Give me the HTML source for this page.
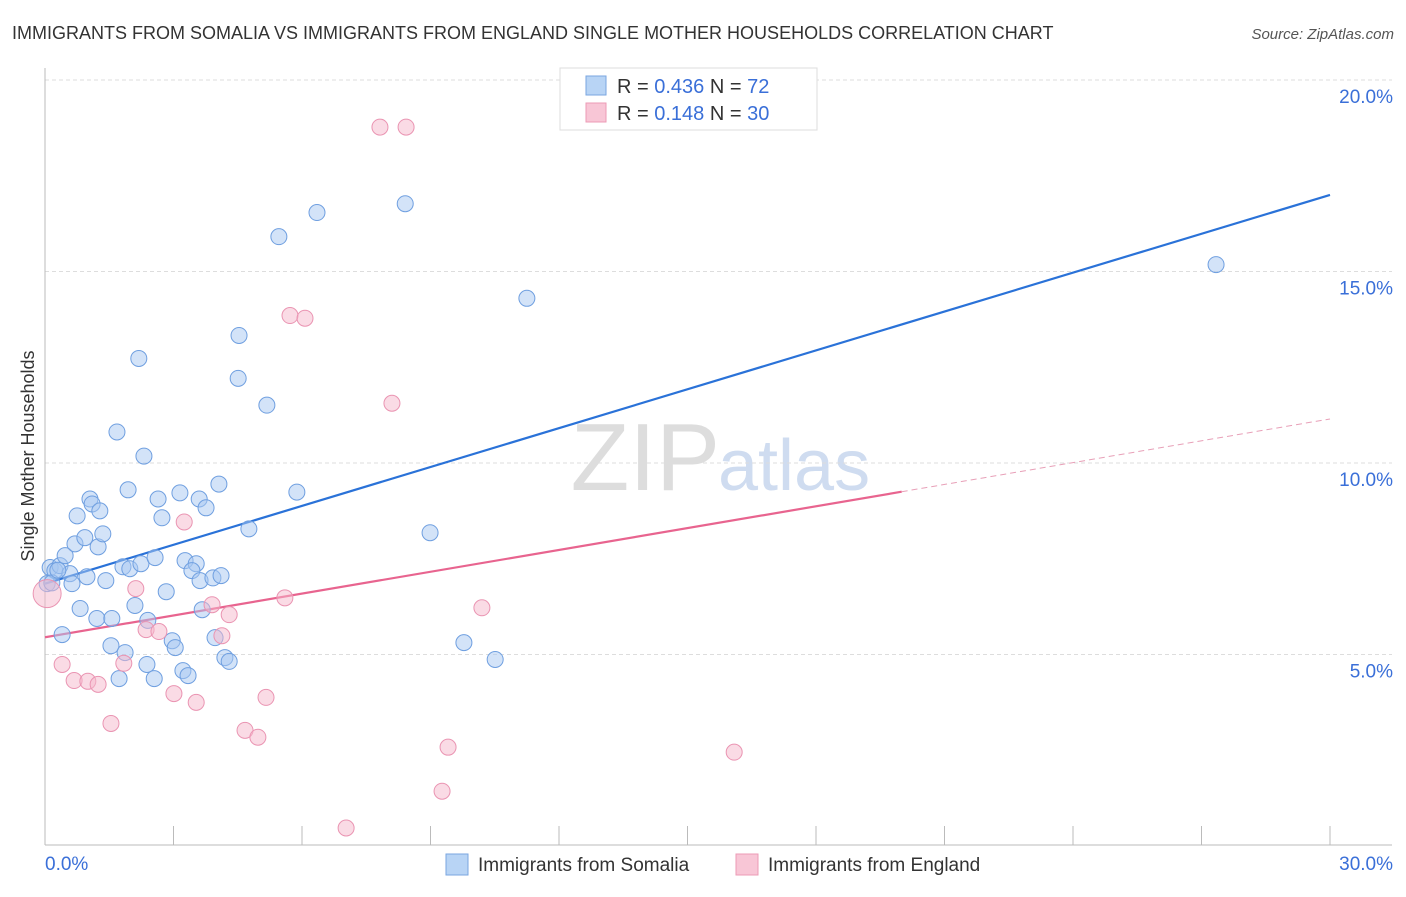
<!DOCTYPE html>
<html><head><meta charset="utf-8"><style>
body{margin:0;background:#fff;font-family:"Liberation Sans",sans-serif;}
svg text{font-family:"Liberation Sans",sans-serif;}
</style></head><body>
<svg id="chart" width="1406" height="892" viewBox="0 0 1406 892">
<text x="12" y="39" font-size="18" fill="#333">IMMIGRANTS FROM SOMALIA VS IMMIGRANTS FROM ENGLAND SINGLE MOTHER HOUSEHOLDS CORRELATION CHART</text>
<text x="1394" y="39" font-size="15" fill="#555" font-style="italic" text-anchor="end">Source: ZipAtlas.com</text>
<text x="720" y="490" font-size="96" fill="#ddd" text-anchor="end" font-family="Liberation Serif">ZIP</text>
<text x="718" y="490" font-size="72" fill="#cfdcf0">atlas</text>
<g id="grid"></g>
<g id="axes"></g>
<g id="lines"></g>
<g id="points"></g>
<text transform="translate(34,456) rotate(-90)" font-size="18" fill="#333" text-anchor="middle">Single Mother Households</text>
<g>
<rect x="560" y="68" width="257" height="62" fill="#fff" stroke="#ddd"/>
<rect x="586" y="76" width="20" height="19" fill="#b8d4f5" stroke="#7aa6e0"/>
<rect x="586" y="103" width="20" height="19" fill="#f8c6d6" stroke="#ec9bb6"/>
<text x="617" y="93" font-size="20" fill="#333">R = <tspan fill="#3a6fd8">0.436</tspan>   N = <tspan fill="#3a6fd8">72</tspan></text>
<text x="617" y="120" font-size="20" fill="#333">R =  <tspan fill="#3a6fd8">0.148</tspan>   N = <tspan fill="#3a6fd8">30</tspan></text>
</g>
<g>
<rect x="446" y="854" width="22" height="21" fill="#b8d4f5" stroke="#7aa6e0"/>
<text x="478" y="871" font-size="19" fill="#333">Immigrants from Somalia</text>
<rect x="736" y="854" width="22" height="21" fill="#f8c6d6" stroke="#ec9bb6"/>
<text x="768" y="871" font-size="19" fill="#333">Immigrants from England</text>
</g>
</svg>
<script>
const somaliaX=[0.12,0.23,0.35,0.05,0.16,0.47,0.58,0.63,0.82,0.70,0.93,0.40,0.75,1.05,1.10,1.28,1.24,1.35,0.98,1.42,1.21,1.56,1.54,1.87,1.73,2.10,1.82,1.98,2.24,2.57,2.40,2.38,2.55,2.83,2.97,3.04,2.73,2.64,1.94,1.68,2.31,2.19,3.15,3.27,3.53,3.43,3.62,3.60,3.76,4.06,3.92,4.11,3.67,3.97,3.22,3.34,4.20,4.30,4.76,4.51,4.53,5.18,5.46,6.35,5.88,8.41,8.99,9.78,10.51,11.25,27.34,0.30];
const somaliaY=[7.27,7.19,7.32,6.85,6.87,7.58,7.11,6.85,6.20,7.89,8.05,5.52,8.62,9.06,8.93,8.75,7.81,8.15,7.03,6.93,5.94,5.94,5.23,5.05,4.37,6.28,7.29,7.24,7.37,7.53,5.89,4.74,4.37,6.64,5.36,5.18,8.57,9.06,9.30,10.81,10.18,12.73,9.22,7.45,7.37,7.19,6.93,9.06,8.83,9.45,7.00,7.06,6.17,5.44,4.58,4.45,4.92,4.82,8.28,12.21,13.33,11.51,15.91,16.54,9.24,16.77,8.18,5.31,4.87,14.30,15.18,7.20];
const englandX=[0.05,0.40,0.68,1.00,1.24,1.54,1.84,2.12,2.36,2.66,3.01,3.25,3.53,3.90,4.13,4.30,4.67,4.97,5.16,5.60,5.72,6.07,7.03,7.82,8.43,8.10,9.27,9.41,10.20,16.09];
const englandY=[6.59,4.74,4.32,4.30,4.22,3.20,4.77,6.72,5.65,5.60,3.98,8.46,3.75,6.30,5.49,6.04,3.02,2.84,3.88,6.48,13.85,13.78,0.47,18.77,18.77,11.56,1.43,2.58,6.22,2.45];
const somaliaTrend=[6.85,17.0];
const englandTrend=[5.45,11.15];
const englandSolidEnd=20.0;
const yTicks=[5,10,15,20];
const yTickLabels=["5.0%","10.0%","15.0%","20.0%"];
const xTicks=[0,3,6,9,12,15,18,21,24,27,30];
const xLabels=[[0,"0.0%"],[30,"30.0%"]];

const NS="http://www.w3.org/2000/svg";
const X=v=>45+v*(1285/30);
const Y=v=>846-v*(766/20);
function mk(tag,attrs,parent){const e=document.createElementNS(NS,tag);for(const k in attrs)e.setAttribute(k,attrs[k]);parent.appendChild(e);return e;}
const grid=document.getElementById('grid'),axes=document.getElementById('axes'),lines=document.getElementById('lines'),pts=document.getElementById('points');
yTicks.forEach((t,i)=>{
 const l=mk('line',{x1:45,x2:1392,y1:Y(t),y2:Y(t),stroke:'#ddd','stroke-dasharray':'4,3'},grid);
 
 
 const tx=mk('text',{x:1393,y:Y(t)+23,'font-size':19,fill:'#3a6fd8','text-anchor':'end'},grid);
 tx.textContent=yTickLabels[i];
 
 
});
const ax=mk('line',{x1:45,x2:1392,y1:845,y2:845,stroke:'#bbb'},axes);


const ay=mk('line',{x1:45,x2:45,y1:68,y2:845,stroke:'#bbb'},axes);


xTicks.forEach(t=>{
 const l=mk('line',{x1:X(t),x2:X(t),y1:826,y2:845,stroke:'#bbb'},axes);
 
 
});
xLabels.forEach(([v,s])=>{
 const tx=mk('text',{x:v===0?X(v):X(v)+63,y:870,'font-size':19,fill:'#3a6fd8','text-anchor':v===0?'start':'end'},axes);
 tx.textContent=s;
 
 
});
const bl=mk('line',{x1:X(0),y1:Y(somaliaTrend[0]),x2:X(30),y2:Y(somaliaTrend[1]),stroke:'#2a72d8','stroke-width':2.2},lines);


const ey=x=>englandTrend[0]+(englandTrend[1]-englandTrend[0])*x/30;
const pl=mk('line',{x1:X(0),y1:Y(ey(0)),x2:X(englandSolidEnd),y2:Y(ey(englandSolidEnd)),stroke:'#e8648f','stroke-width':2.2},lines);


const pd=mk('line',{x1:X(englandSolidEnd),y1:Y(ey(englandSolidEnd)),x2:X(30),y2:Y(ey(30)),stroke:'#e8a0b8','stroke-width':1,'stroke-dasharray':'6,4'},lines);


somaliaX.forEach((x,i)=>{
 const c=mk('circle',{cx:X(x),cy:Y(somaliaY[i]),r:8,fill:'rgba(168,200,242,0.5)',stroke:'#6f9fe0','stroke-width':1},pts);
 
 
});
englandX.forEach((x,i)=>{
 const c=mk('circle',{cx:X(x),cy:Y(englandY[i]),r:i===0?14:8,fill:'rgba(246,184,204,0.5)',stroke:'#ea94b2','stroke-width':1},pts);
 
 
});
</script>
</body></html>
